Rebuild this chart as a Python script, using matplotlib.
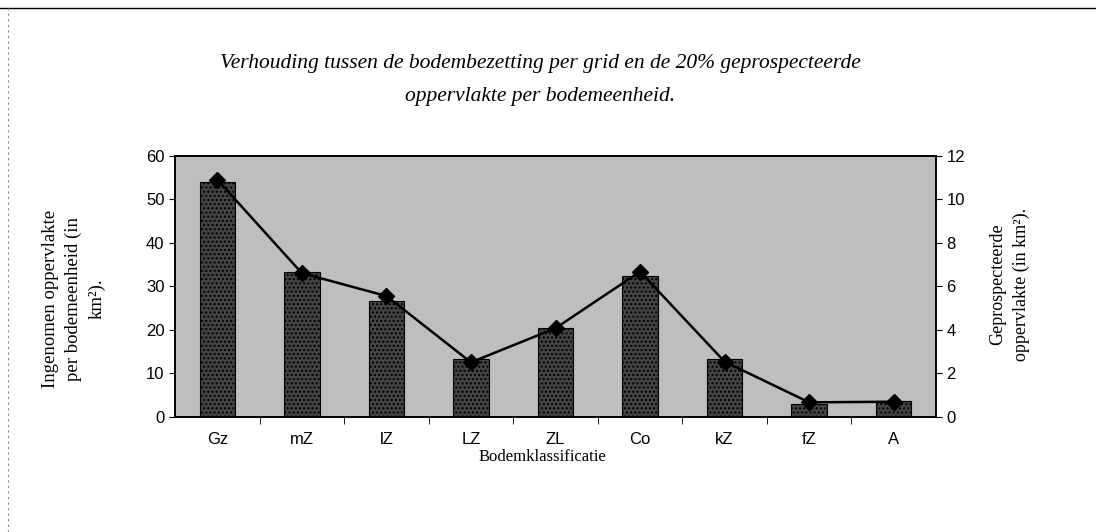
import numpy as np
import matplotlib.pyplot as plt

klassen = ["Gz", "mZ", "lZ", "LZ", "ZL", "Co", "kZ", "fZ", "A"]
ingenomen = [54.0, 33.2, 26.7, 13.3, 20.5, 32.3, 13.3, 2.9, 3.6]
geprospecteerd = [10.9, 6.6, 5.55, 2.5, 4.07, 6.67, 2.53, 0.66, 0.69]

serif = "Liberation Serif"
sans = "Liberation Sans"

fig = plt.figure(figsize=(10.96, 5.32), dpi=100)
ax = fig.add_axes([0.1597, 0.2167, 0.6943, 0.4906])
ax.set_facecolor("#bebebe")

x = np.arange(len(klassen))
ax.bar(x, ingenomen, width=0.42, color="#444444", edgecolor="black",
       linewidth=0.8, hatch="....", zorder=2)
ax.set_xlim(-0.5, len(klassen) - 0.5)
ax.set_ylim(0, 60)
ax.set_yticks(range(0, 61, 10))
ax.set_xticks(x)
ax.set_xticklabels(klassen, fontfamily=sans, fontsize=12)
ax.set_xticks(np.arange(0.5, len(klassen) - 1, 1), minor=True)
ax.tick_params(axis="x", which="major", length=0, pad=11)
ax.tick_params(axis="x", which="minor", length=5, direction="out")
ax.tick_params(axis="y", length=4, direction="out", labelsize=12)
for t in ax.get_yticklabels():
    t.set_fontfamily(sans)

ax2 = ax.twinx()
ax2.plot(x, geprospecteerd, color="black", linewidth=1.8, marker="D",
         markersize=8, zorder=3)
ax2.set_ylim(0, 12)
ax2.set_yticks(range(0, 13, 2))
ax2.tick_params(axis="y", length=4, direction="out", labelsize=12)
for t in ax2.get_yticklabels():
    t.set_fontfamily(sans)

for a in (ax, ax2):
    for s in a.spines.values():
        s.set_linewidth(1.2)

fig.text(0.493, 0.881, "Verhouding tussen de bodembezetting per grid en de 20% geprospecteerde",
         ha="center", va="center", fontfamily=serif, style="italic", fontsize=15.5)
fig.text(0.493, 0.819, "oppervlakte per bodemeenheid.",
         ha="center", va="center", fontfamily=serif, style="italic", fontsize=15.5)

fig.text(0.495, 0.141, "Bodemklassificatie", ha="center", va="center",
         fontfamily=serif, fontsize=12)
fig.text(0.067, 0.438, "Ingenomen oppervlakte\nper bodemeenheid (in\nkm²).",
         ha="center", va="center", rotation=90, fontfamily=serif, fontsize=13.5,
         multialignment="center", linespacing=1.45)
fig.text(0.921, 0.465, "Geprospecteerde\noppervlakte (in km²).",
         ha="center", va="center", rotation=90, fontfamily=serif, fontsize=13,
         multialignment="center", linespacing=1.5)

fig.add_artist(plt.Line2D([0, 1], [0.985, 0.985], color="black", linewidth=1))
fig.add_artist(plt.Line2D([0.007, 0.007], [0, 0.985], color="#888888",
                          linewidth=0.8, linestyle=(0, (2, 3))))

fig.savefig("out.png", dpi=100)
